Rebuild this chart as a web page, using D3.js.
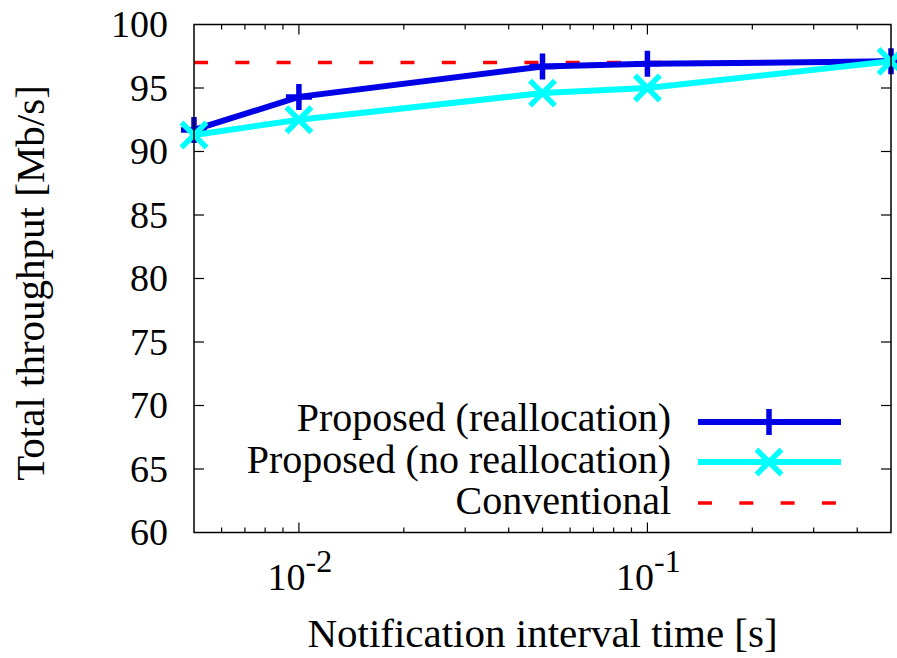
<!DOCTYPE html>
<html>
<head>
<meta charset="utf-8">
<script src="https://cdn.jsdelivr.net/npm/d3@7"></script>
<style>
  html, body { margin: 0; padding: 0; background: #fff; }
  svg { display: block; }
  text { font-family: "Liberation Serif", "Times New Roman", serif; fill: #000; }
</style>
</head>
<body>
<svg id="chart" width="897" height="658"></svg>
<script>
// Notification interval (s) on a log axis
const intervals = [0.005, 0.01, 0.05, 0.1, 0.5];
// Total throughput (Mb/s)
const reallocation = [91.7, 94.3, 96.7, 96.9, 97.1];
const noReallocation = [91.3, 92.5, 94.6, 95.0, 97.1];
const conventional = 97.0;

const yTicks = [60, 65, 70, 75, 80, 85, 90, 95, 100];
const xMajorTicks = [0.01, 0.1];
const xMinorTicks = [0.006, 0.007, 0.008, 0.009, 0.02, 0.03, 0.04, 0.05, 0.06, 0.07, 0.08, 0.09, 0.2, 0.3, 0.4];
const xTickExponents = ["-2", "-1"];

const seriesNames = ["Proposed (reallocation)", "Proposed (no reallocation)", "Conventional"];
const colors = { realloc: "#0000e6", norealloc: "#00ffff", conv: "#ff0000" };

const plotLeft = 194, plotRight = 891, plotTop = 24.5, plotBottom = 532.5;
const svg = d3.select("#chart");

const x = d3.scaleLog().domain([0.005, 0.5]).range([plotLeft, plotRight]);
const y = d3.scaleLinear().domain([60, 100]).range([plotBottom, plotTop]);

const numSize = 38;
const textSize = 41;
const legendSize = 40;
const dash = "14,27.3";

// Tick marks (inward, mirrored on opposite sides)
const g = svg.append("g").attr("stroke", "#000").attr("stroke-width", 1.2);
yTicks.forEach(v => {
  if (v === 60 || v === 100) return;
  g.append("line").attr("x1", plotLeft).attr("x2", plotLeft + 10).attr("y1", y(v)).attr("y2", y(v));
  g.append("line").attr("x1", plotRight).attr("x2", plotRight - 10).attr("y1", y(v)).attr("y2", y(v));
});
xMajorTicks.forEach(v => {
  g.append("line").attr("x1", x(v)).attr("x2", x(v)).attr("y1", plotBottom).attr("y2", plotBottom - 10);
  g.append("line").attr("x1", x(v)).attr("x2", x(v)).attr("y1", plotTop).attr("y2", plotTop + 10);
});
xMinorTicks.forEach(v => {
  g.append("line").attr("x1", x(v)).attr("x2", x(v)).attr("y1", plotBottom).attr("y2", plotBottom - 5);
  g.append("line").attr("x1", x(v)).attr("x2", x(v)).attr("y1", plotTop).attr("y2", plotTop + 5);
});

// Y tick labels
svg.append("g").selectAll("text").data(yTicks).join("text")
  .attr("x", 168).attr("y", d => y(d)).attr("dy", "0.34em")
  .attr("text-anchor", "end").attr("font-size", numSize)
  .text(d => d);

// X tick labels as powers of ten
xMajorTicks.forEach((v, i) => {
  const t = svg.append("text").attr("x", x(v) + 1).attr("y", 590)
    .attr("text-anchor", "middle").attr("font-size", numSize);
  t.append("tspan").text("10");
  t.append("tspan").attr("dy", -18).attr("font-size", 32).text(xTickExponents[i]);
});

// Axis titles
svg.append("text").attr("x", (plotLeft + plotRight) / 2).attr("y", 647)
  .attr("text-anchor", "middle").attr("font-size", textSize)
  .text("Notification interval time [s]");
svg.append("text")
  .attr("transform", `translate(44,283) rotate(-90)`)
  .attr("text-anchor", "middle").attr("font-size", textSize)
  .text("Total throughput [Mb/s]");

// Conventional baseline (clipped to the plot frame)
svg.append("clipPath").attr("id", "clip").append("rect")
  .attr("x", plotLeft).attr("y", plotTop).attr("width", plotRight - plotLeft).attr("height", plotBottom - plotTop);
svg.append("line").attr("clip-path", "url(#clip)")
  .attr("x1", plotLeft).attr("x2", plotRight).attr("y1", y(conventional)).attr("y2", y(conventional))
  .attr("stroke", colors.conv).attr("stroke-width", 3.5).attr("stroke-dasharray", dash);

const line = d3.line().x(d => x(d[0])).y(d => y(d[1]));
const plusPath = s => `M${-s},0H${s}M0,${-s}V${s}`;
const crossPath = s => `M${-s},${-s}L${s},${s}M${-s},${s}L${s},${-s}`;

function drawSeries(vals, color, markerPath) {
  const pts = intervals.map((t, i) => [t, vals[i]]);
  svg.append("path").datum(pts).attr("d", line)
    .attr("fill", "none").attr("stroke", color).attr("stroke-width", 6)
    .attr("stroke-linejoin", "miter");
  svg.append("g").selectAll("path").data(pts).join("path")
    .attr("transform", d => `translate(${x(d[0])},${y(d[1])})`)
    .attr("d", markerPath).attr("fill", "none").attr("stroke", color).attr("stroke-width", 5.5);
}
drawSeries(reallocation, colors.realloc, plusPath(13));
drawSeries(noReallocation, colors.norealloc, crossPath(12.5));

// Frame
svg.append("rect").attr("x", plotLeft).attr("y", plotTop).attr("width", plotRight - plotLeft).attr("height", plotBottom - plotTop)
  .attr("fill", "none").attr("stroke", "#000").attr("stroke-width", 1.5);

// Legend
const legendRows = [422, 462, 503];
const legendBaselines = [431, 473, 514];
const lx1 = 698, lx2 = 841, lmid = 769;
seriesNames.forEach((name, i) => {
  svg.append("text").attr("x", 671).attr("y", legendBaselines[i])
    .attr("text-anchor", "end").attr("font-size", legendSize).text(name);
});
svg.append("line").attr("x1", lx1).attr("x2", lx2).attr("y1", legendRows[0]).attr("y2", legendRows[0])
  .attr("stroke", colors.realloc).attr("stroke-width", 6);
svg.append("path").attr("transform", `translate(${lmid},${legendRows[0]})`).attr("d", plusPath(13))
  .attr("stroke", colors.realloc).attr("stroke-width", 5.5);
svg.append("line").attr("x1", lx1).attr("x2", lx2).attr("y1", legendRows[1]).attr("y2", legendRows[1])
  .attr("stroke", colors.norealloc).attr("stroke-width", 6);
svg.append("path").attr("transform", `translate(${lmid},${legendRows[1]})`).attr("d", crossPath(12.5))
  .attr("stroke", colors.norealloc).attr("stroke-width", 5.5);
svg.append("line").attr("x1", lx1).attr("x2", lx2).attr("y1", legendRows[2]).attr("y2", legendRows[2])
  .attr("stroke", colors.conv).attr("stroke-width", 3.5).attr("stroke-dasharray", dash);
</script>
</body>
</html>
